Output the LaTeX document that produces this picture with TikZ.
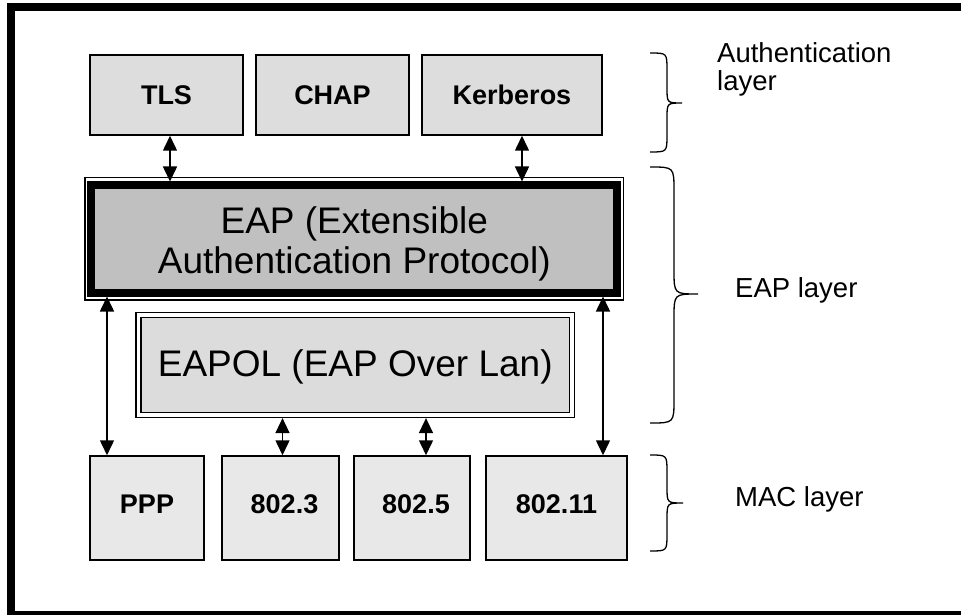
\documentclass[tikz,border=0pt]{standalone}
\usepackage{fontspec}
\setmainfont{Liberation Sans}
\usetikzlibrary{arrows.meta}
\definecolor{authgray}{HTML}{DDDDDD}
\definecolor{macgray}{HTML}{E8E8E8}
\definecolor{eapgray}{HTML}{C0C0C0}
\definecolor{eapolgray}{HTML}{DCDCDC}
\begin{document}
\begin{tikzpicture}[x=1bp,y=-1bp,
  box/.style={draw, line width=1.5bp, inner sep=0bp,
    font=\fontsize{27bp}{32bp}\selectfont\bfseries},
  authbox/.style={box, fill=authgray, minimum height=80bp,
    text height=19.5bp, text depth=0bp},
  macbox/.style={box, fill=macgray, minimum height=104bp,
    text height=19.5bp, text depth=9.5bp},
  eapframe/.style={draw, line width=1.2bp, inner sep=0bp,
    minimum width=538.5bp, minimum height=122.5bp},
  eapbox/.style={draw, line width=8bp, fill=eapgray, inner sep=0bp,
    minimum width=525.5bp, minimum height=107bp, align=center,
    font=\fontsize{37bp}{39.6bp}\selectfont, text height=76.6bp, text depth=7.8bp},
  eapolbox/.style={draw, line width=1.2bp, double=white, double distance=3.8bp,
    fill=eapolgray, inner sep=0bp, outer sep=3.1bp,
    minimum width=433.5bp, minimum height=100bp,
    font=\fontsize{37bp}{40bp}\selectfont, text height=27bp, text depth=4bp},
  darrow/.style={{Triangle[length=15bp,width=14bp]}-{Triangle[length=15bp,width=14bp]},
    line width=1.5bp},
  layerlabel/.style={inner sep=0bp, font=\fontsize{27.5bp}{27.5bp}\selectfont},
  layerbrace/.style={line width=1.3bp}
]
\useasboundingbox (0,0) rectangle (961,615);
% white ground reaching a little past the page edges
\fill[white] (-10,-10) rectangle (975,630);
% outer frame: left, top and bottom sides; the right side lies off the page
\draw[line width=8bp] (975,615) -- (11,615) -- (11,7) -- (975,7);

% authentication layer
\node[authbox, minimum width=153bp] (tls)  at (166.5,95) {TLS};
\node[authbox, minimum width=153bp] (chap) at (332.5,95) {CHAP};
\node[authbox, minimum width=180bp] (kerb) at (512,95)   {Kerberos};

% EAP layer
\node[eapframe] (eapo) at (354.25,238.75) {};
\node[eapbox] (eap) at (354.25,239) {EAP (Extensible\\Authentication Protocol)};
\node[eapolbox] (eapol) at (355.25,365) {EAPOL (EAP Over Lan)};

% MAC layer
\node[macbox, minimum width=114bp] (ppp) at (147,508)   {PPP};
\node[macbox, minimum width=117bp] (m3)  at (280.5,508) {\hspace*{8bp}802.3};
\node[macbox, minimum width=116bp] (m5)  at (412,508)   {\hspace*{8bp}802.5};
\node[macbox, minimum width=141bp] (m11) at (556.5,508) {802.11};

% connectors
\draw[darrow] ([xshift=3.5bp]tls.south) -- ([xshift=3.5bp]tls.south |- eap.north);
\draw[darrow] ([xshift=10bp]kerb.south) -- ([xshift=10bp]kerb.south |- eap.north);
\draw[darrow] ([xshift=-40bp]ppp.north) -- ([xshift=-40bp]ppp.north |- eap.south);
\draw[darrow] ([xshift=2bp]m3.north) -- ([xshift=2bp]m3.north |- eapol.south);
\draw[darrow] ([xshift=14bp]m5.north) -- ([xshift=14bp]m5.north |- eapol.south);
\draw[darrow] ([xshift=46.5bp]m11.north) -- ([xshift=46.5bp]m11.north |- eap.south);

% layer braces
\draw[layerbrace] (650,53) .. controls (667,53) .. (667,70) -- (667,88)
  .. controls (667,103) .. (682,103) .. controls (667,103) .. (667,118)
  -- (667,135) .. controls (667,152) .. (650,152);
\draw[layerbrace] (650,167) .. controls (674,167) .. (674,191) -- (674,270)
  .. controls (674,294) .. (698,294) .. controls (674,294) .. (674,318)
  -- (674,399) .. controls (674,423) .. (650,423);
\draw[layerbrace] (650,455) .. controls (667,455) .. (667,472) -- (667,487)
  .. controls (667,503) .. (683,503) .. controls (667,503) .. (667,519)
  -- (667,534) .. controls (667,551) .. (650,551);

% layer labels
\node[layerlabel, anchor=north west, align=left, text height=20bp] (authlbl) at (717,70) {Authentication\\layer};
\node[layerlabel, anchor=base west] (eaplbl) at (735,297) {EAP layer};
\node[layerlabel, anchor=base west] (maclbl) at (735,506) {MAC layer};
\end{tikzpicture}
\end{document}
